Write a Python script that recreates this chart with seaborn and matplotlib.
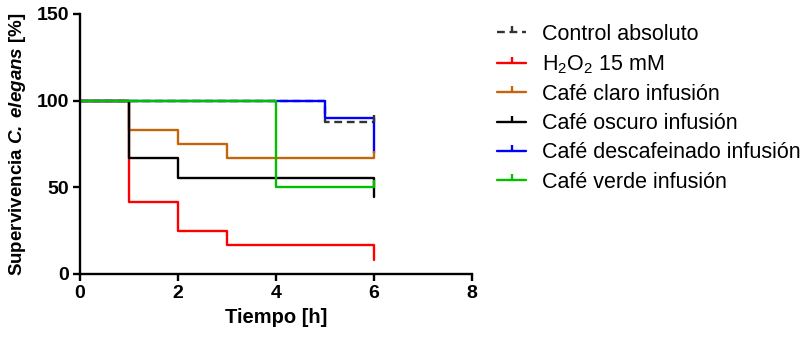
import matplotlib
matplotlib.use("Agg")
import matplotlib.pyplot as plt
import seaborn as sns
import pandas as pd
from matplotlib.path import Path
from matplotlib.lines import Line2D

# ---- data ----
groups = ["Control absoluto", "H$_2$O$_2$ 15 mM", "Café claro infusión",
          "Café oscuro infusión", "Café descafeinado infusión", "Café verde infusión"]
times_control = [0, 5, 6]
surv_control = [100, 87.5, 87.5]
times_h2o2 = [0, 1, 2, 3, 6]
surv_h2o2 = [100, 41.7, 25.0, 16.7, 8.3]
times_claro = [0, 1, 2, 3, 6]
surv_claro = [100, 83.3, 75.0, 66.7, 66.7]
times_oscuro = [0, 1, 2, 6]
surv_oscuro = [100, 66.7, 55.6, 44.4]
times_descaf = [0, 5, 6]
surv_descaf = [100, 90.0, 70.0]
times_verde = [0, 4, 6]
surv_verde = [100, 50.0, 50.0]
censored = [True, False, True, False, False, True]
x_ticks = [0, 2, 4, 6, 8]
y_ticks = [0, 50, 100, 150]

colors = ["#333333", "#FF0000", "#C4650A", "#000000", "#0000FF", "#00C000"]

all_times = [times_control, times_h2o2, times_claro, times_oscuro, times_descaf, times_verde]
all_surv = [surv_control, surv_h2o2, surv_claro, surv_oscuro, surv_descaf, surv_verde]
rows = []
for g, ts, ss in zip(groups, all_times, all_surv):
    for t, s in zip(ts, ss):
        rows.append({"group": g, "t": t, "s": s})
df = pd.DataFrame(rows)

sns.set_style("ticks", {"axes.edgecolor": "black", "text.color": "black",
                        "xtick.color": "black", "ytick.color": "black",
                        "axes.labelcolor": "black"})
plt.rcParams["font.family"] = ["Liberation Sans", "DejaVu Sans"]
plt.rcParams["mathtext.fontset"] = "custom"
plt.rcParams["mathtext.rm"] = "Liberation Sans"
plt.rcParams["mathtext.it"] = "Liberation Sans:italic"
plt.rcParams["mathtext.bf"] = "Liberation Sans:bold"
plt.rcParams["mathtext.bfit"] = "Liberation Sans:italic:bold"

fig = plt.figure(figsize=(8.08, 3.43), dpi=100)
ax = fig.add_axes([80 / 808, 1 - 274 / 343, 392 / 808, 260 / 343])

dash_map = {g: "" for g in groups}
dash_map[groups[0]] = (3.3, 2)
pal = dict(zip(groups, colors))
sns.lineplot(data=df, x="t", y="s", hue="group", style="group", hue_order=groups,
             style_order=groups, palette=pal, dashes=dash_map, estimator=None,
             drawstyle="steps-post", linewidth=1.7, ax=ax, legend=False, sort=False)

tick_marker = Path([(0, 0), (0, 1)], [Path.MOVETO, Path.LINETO])
for g, ts, ss, c, cen in zip(groups, all_times, all_surv, colors, censored):
    if cen:
        ax.plot([ts[-1]], [ss[-1]], linestyle="none", marker=tick_marker,
                markersize=10, markeredgewidth=1.7, color=c)

ax.set_xlim(0, 8)
ax.set_ylim(0, 150)
ax.set_xticks(x_ticks)
ax.set_yticks(y_ticks)
for sp in ["top", "right"]:
    ax.spines[sp].set_visible(False)
for sp in ["left", "bottom"]:
    ax.spines[sp].set_linewidth(1.7)
    ax.spines[sp].set_color("black")
ax.tick_params(width=1.7, length=5, labelsize=14, pad=3, colors="black")
for lab in ax.get_xticklabels() + ax.get_yticklabels():
    lab.set_fontweight("bold")
ax.set_xlabel("Tiempo [h]", fontsize=14.5, fontweight="bold", labelpad=4, color="black")
ax.set_ylabel(r"Supervivencia $\mathbfit{C.\;elegans}$ [%]", fontsize=13.5,
              fontweight="bold", labelpad=6, color="black")

handles = []
for g, c in zip(groups, colors):
    ls = (0, (3.3, 2)) if g == groups[0] else "-"
    handles.append(Line2D([0], [0], color=c, linewidth=1.7, linestyle=ls,
                          marker=tick_marker, markersize=8, markeredgewidth=1.7))
fig.legend(handles=handles, labels=groups, loc="upper left",
           bbox_to_anchor=(497 / 808, 1 - 24 / 343), frameon=False, fontsize=15.5,
           handlelength=1.35, handletextpad=0.75, labelspacing=0.38,
           borderpad=0, borderaxespad=0, numpoints=1, labelcolor="black")

fig.savefig("out.png", dpi=100)
